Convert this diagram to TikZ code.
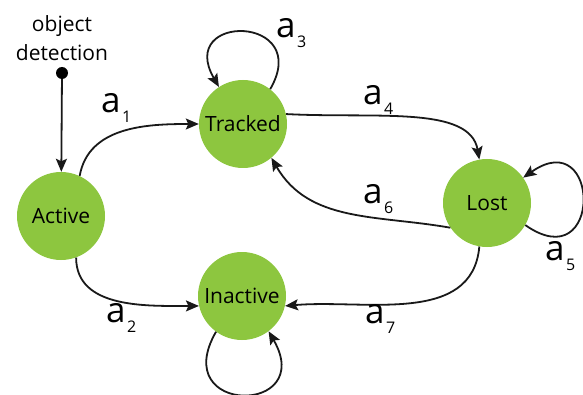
\documentclass[tikz,border=0pt]{standalone}
\usepackage{fontspec}
\setmainfont{Open Sans}
\usetikzlibrary{arrows.meta}
\definecolor{stategreen}{RGB}{141,198,63}
\definecolor{edgecol}{RGB}{25,25,25}
\newcommand{\albl}[1]{{\fontsize{35}{35}\selectfont a}\kern1.5pt\raisebox{-10pt}{\fontsize{16}{16}\selectfont #1}}
\begin{document}
\begin{tikzpicture}[x=1pt,y=1pt,
  state/.style={circle, fill=stategreen, minimum size=88pt, inner sep=0pt,
    font=\fontsize{21}{21}\selectfont, text=black},
  edge/.style={draw=edgecol, line width=1.8pt,
    -{Stealth[length=13pt,width=11pt,inset=2.5pt]}},
  lbl/.style={anchor=base west, inner sep=0pt, text=black}
]
\useasboundingbox (0,0) rectangle (583,394);
\node[state] (active) at (61,178) {Active};
\node[state] (tracked) at (243,270) {Tracked};
\node[state] (lost) at (487,191) {Lost};
\node[state] (inactive) at (242,98) {Inactive};
\node[circle, fill=black, minimum size=12pt, inner sep=0pt] (dot) at (62,321) {};
\node[align=center, inner sep=0pt, font=\fontsize{21}{29}\selectfont] (src) at (62,356) {object\\detection};

\draw[edge] (dot) -- (active);
\draw[edge] (active.65) to[out=80,in=180] (tracked.west);
\draw[edge] (active.-70) to[out=-90,in=180] (inactive.193);
\draw[edge] (tracked.13) to[out=-3,in=100,out distance=90pt,in distance=55pt] (lost.100);
\draw[edge] (lost.214) to[out=170,in=-60] (tracked.-50);
\draw[edge] (lost.260) to[out=-95,in=5] (inactive.-13);
\draw[edge] (tracked.52) to[out=60,in=120,distance=86pt] (tracked.123);
\draw[edge] (lost.-30) to[out=-35,in=35,distance=95pt] (lost.35);
\draw[edge] (inactive.-126) to[out=-120,in=-60,distance=97pt] (inactive.-53);

\node[lbl] (l1) at (101,281) {\albl{1}};
\node[lbl] (l2) at (106,72) {\albl{2}};
\node[lbl] (l3) at (276,356) {\albl{3}};
\node[lbl] (l4) at (363,289) {\albl{4}};
\node[lbl] (l5) at (545,134) {\albl{5}};
\node[lbl] (l6) at (363,191) {\albl{6}};
\node[lbl] (l7) at (365,71) {\albl{7}};
\end{tikzpicture}
\end{document}
